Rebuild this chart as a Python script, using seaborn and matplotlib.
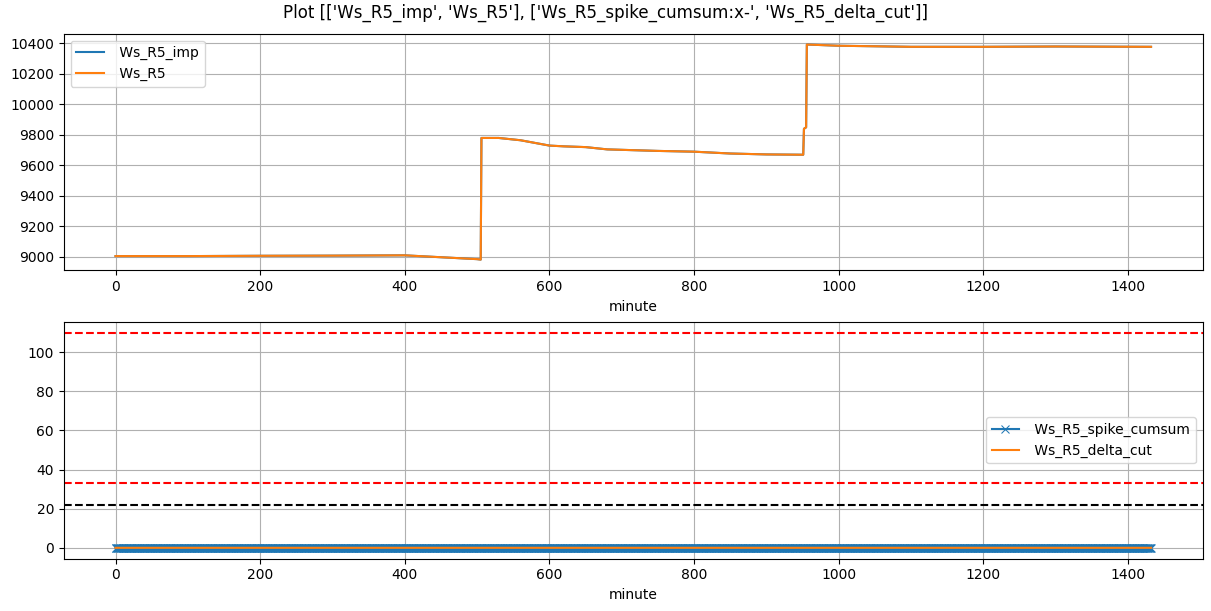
import numpy as np
import pandas as pd
import matplotlib
matplotlib.use("Agg")
import matplotlib.pyplot as plt
import seaborn as sns

# Top panel: breakpoints (minute, value)
top_minutes = [0, 100, 200, 300, 400, 420, 480, 500, 505, 506, 530, 560, 600, 620,
               650, 680, 750, 800, 850, 900, 951, 952, 955, 956, 1000, 1100, 1200,
               1300, 1432]
ws_r5 = [9005, 9005, 9007, 9008, 9010, 9005, 8990, 8985, 8982, 9780, 9780, 9765,
         9730, 9725, 9720, 9705, 9695, 9690, 9678, 9672, 9670, 9840, 9850, 10393,
         10385, 10378, 10378, 10380, 10378]
ws_r5_imp = list(ws_r5)

# Bottom panel
bottom_minutes = list(range(0, 1433))
spike_cumsum = [0] * len(bottom_minutes)
delta_cut = [0] * len(bottom_minutes)
red_levels = [110, 33]
black_levels = [22]

title = "Plot [['Ws_R5_imp', 'Ws_R5'], ['Ws_R5_spike_cumsum:x-', 'Ws_R5_delta_cut']]"

fig, (ax1, ax2) = plt.subplots(2, 1, figsize=(12.11, 6.11), dpi=100,
                               layout="constrained")
W, H = 1211.0, 611.0
fig.get_layout_engine().set(rect=(6 / W, 5 / H, 1 - 10 / W, 1 - 8 / H))
fig.suptitle(title, fontsize=12)

sns.lineplot(x=top_minutes, y=ws_r5_imp, ax=ax1, color="C0", label=" Ws_R5_imp")
sns.lineplot(x=top_minutes, y=ws_r5, ax=ax1, color="C1", label=" Ws_R5")
ax1.set_xlabel("minute")
ax1.grid(True)
ax1.legend(loc="upper left")

sns.lineplot(x=bottom_minutes, y=spike_cumsum, ax=ax2, color="C0", marker="x",
             markersize=6, markeredgecolor="C0", label=" Ws_R5_spike_cumsum")
sns.lineplot(x=bottom_minutes, y=delta_cut, ax=ax2, color="C1", label=" Ws_R5_delta_cut")
for lv in red_levels:
    ax2.axhline(lv, color="red", linestyle="--")
for lv in black_levels:
    ax2.axhline(lv, color="black", linestyle="--")
ax2.set_xlabel("minute")
ax2.grid(True)
ax2.legend(loc="center right")

fig.savefig("out.png", dpi=100)
